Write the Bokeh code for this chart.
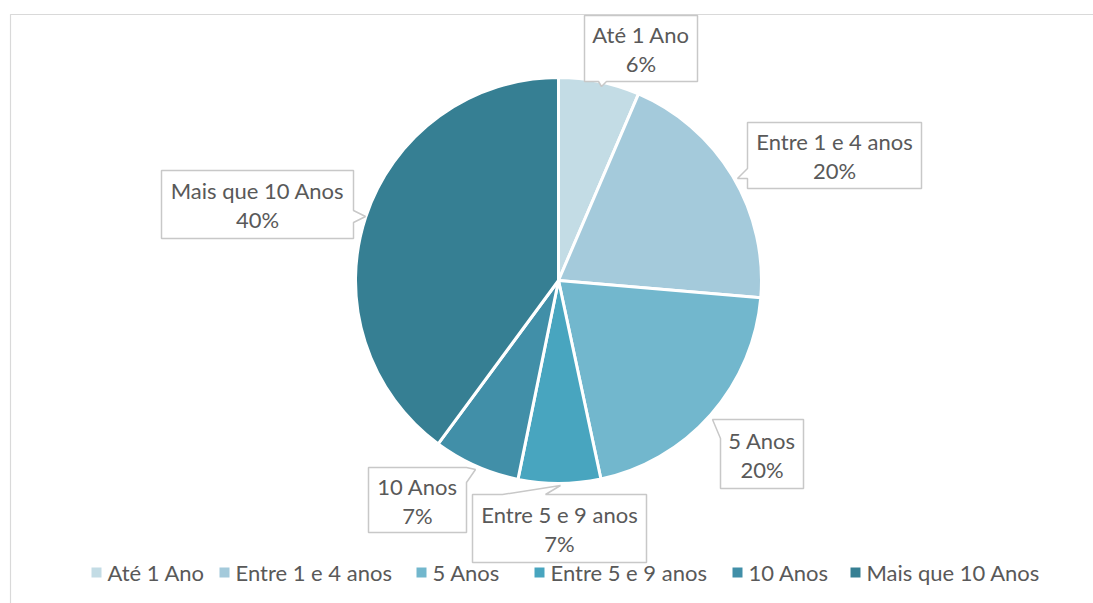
import math
from bokeh.plotting import figure
from bokeh.models import Range1d
from bokeh.core.properties import value
from bokeh.embed import file_html
from bokeh.resources import INLINE

# ---- data ----
categories = ["Até 1 Ano", "Entre 1 e 4 anos", "5 Anos", "Entre 5 e 9 anos", "10 Anos", "Mais que 10 Anos"]
shares = [6.45, 19.9, 20.3, 6.55, 6.9, 39.9]
colors = ["#C3DCE5", "#A4CADB", "#72B7CD", "#48A5BF", "#418FA8", "#367F93"]

# ---- layout (image pixel coordinates) ----
W, H = 1093, 603
FONT = "Lato"
FS = "22px"
TXT = "#595959"
BORDER = "#C8C8C8"
CX, CY, R = 558, 280, 203

def X(x):
    return x

def Y(y):
    return H - y

# callout boxes: (x0, y0, x1, y1, side, a, b, tip)
callouts = [
    (584, 15, 697, 81, "bottom", 598, 606, (601, 86)),
    (747, 122, 921, 188, "left", 168, 178, (737, 178)),
    (720, 419, 803, 488, "left", 419, 438, (712, 419)),
    (472, 494, 646, 562, "top", 502, 545, (560, 485)),
    (368, 467, 466, 532, "right", 467, 482, (475, 469)),
    (161, 170, 353, 238, "right", 210, 222, (365, 216)),
]
legend_sq_x = [91, 219, 416, 534, 732, 850]
LEG_Y = 572

p = figure(width=W, height=H, output_backend="svg", toolbar_location=None,
           x_range=Range1d(0, W), y_range=Range1d(0, H), min_border=0)
p.axis.visible = False
p.grid.visible = False
p.outline_line_color = None
p.background_fill_color = "white"

# chart area border
p.line([X(10), X(10), X(1100)], [Y(620), Y(14), Y(14)], line_color="#D9D9D9", line_width=1.2)

# pie
total = sum(shares)
cum = 0.0
starts, ends = [], []
for s in shares:
    starts.append(math.pi / 2 - 2 * math.pi * cum / total)
    cum += s
    ends.append(math.pi / 2 - 2 * math.pi * cum / total)
p.wedge(x=X(CX), y=Y(CY), radius=R, start_angle=starts, end_angle=ends,
        direction="clock", fill_color=colors, line_color="white", line_width=3)

# callouts
for (x0, y0, x1, y1, side, a, b, tip), cat, s in zip(callouts, categories, shares):
    if side == "left":
        pts = [(x0, y0), (x1, y0), (x1, y1), (x0, y1), (x0, b), tip, (x0, a)]
    elif side == "right":
        pts = [(x0, y0), (x1, y0), (x1, a), tip, (x1, b), (x1, y1), (x0, y1)]
    elif side == "top":
        pts = [(x0, y0), (a, y0), tip, (b, y0), (x1, y0), (x1, y1), (x0, y1)]
    else:
        pts = [(x0, y0), (x1, y0), (x1, y1), (b, y1), tip, (a, y1), (x0, y1)]
    p.patch([X(px) for px, _ in pts], [Y(py) for _, py in pts],
            fill_color="white", line_color=BORDER, line_width=1.5)
    cxm = (x0 + x1) / 2
    cym = (y0 + y1) / 2
    pct = f"{round(s / total * 100):d}%"
    p.text(x=[X(cxm), X(cxm)], y=[Y(cym - 14), Y(cym + 15)], text=[cat, pct],
           text_font=value(FONT), text_font_size=FS, text_color=TXT,
           text_align="center", text_baseline="middle")

# legend
for sx, cat, c in zip(legend_sq_x, categories, colors):
    p.rect(x=[X(sx + 5)], y=[Y(LEG_Y)], width=10, height=10, fill_color=c, line_color=None)
    p.text(x=[X(sx + 16)], y=[Y(LEG_Y)], text=[cat], text_font=value(FONT),
           text_font_size=FS, text_color=TXT, text_align="left", text_baseline="middle")

open("out.html", "w").write(file_html(p, INLINE))
